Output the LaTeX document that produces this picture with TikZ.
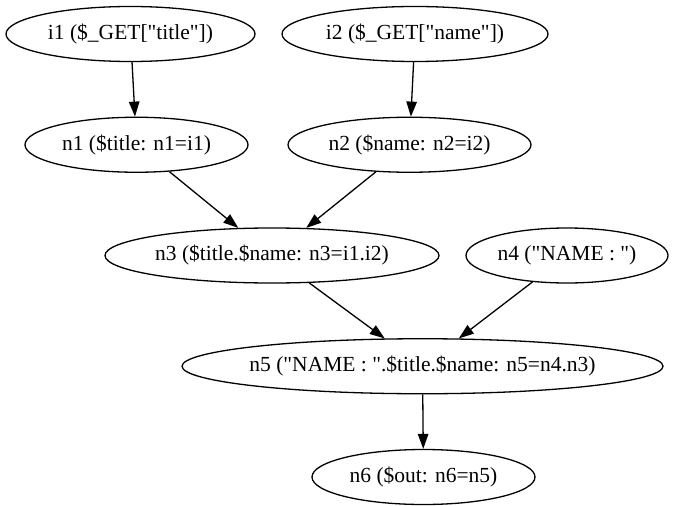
\documentclass[tikz,border=0pt]{standalone}
\usepackage{fontspec}
\newfontfamily\gvfont{Liberation Serif}
\usetikzlibrary{shapes.geometric,arrows.meta}
\tikzset{
  gnode/.style={draw, ellipse, line width=1.3pt, inner sep=0pt, minimum height=55pt,
    font=\gvfont\fontsize{21.5}{24}\selectfont},
  gedge/.style={line width=1.3pt, -{Triangle[length=15pt,width=10.5pt]}}
}
\newcommand{\lbl}[1]{\makebox[0pt]{#1}}
\begin{document}
\begin{tikzpicture}[x=1pt,y=-1pt]
\useasboundingbox (0,0) rectangle (676,505);
\node[gnode, minimum width=249pt] (i1) at (130.5,34) {\lbl{i1 (\$\_GET["title"])}};
\node[gnode, minimum width=266pt] (i2) at (415,34) {\lbl{i2 (\$\_GET["name"])}};
\node[gnode, minimum width=223pt] (n1) at (136.5,144.75) {\lbl{n1 (\$title: n1=i1)}};
\node[gnode, minimum width=243pt] (n2) at (409.5,144.75) {\lbl{n2 (\$name: n2=i2)}};
\node[gnode, minimum width=334pt] (n3) at (272,255.5) {\lbl{n3 (\$title.\$name: n3=i1.i2)}};
\node[gnode, minimum width=202pt] (n4) at (567,255.5) {\lbl{n4 ("NAME : ")}};
\node[gnode, minimum width=481pt] (n5) at (422.5,366.25) {\lbl{n5 ("NAME : ".\$title.\$name: n5=n4.n3)}};
\node[gnode, minimum width=223pt] (n6) at (423.5,477) {\lbl{n6 (\$out: n6=n5)}};
\draw[gedge] (i1) -- (n1);
\draw[gedge] (i2) -- (n2);
\draw[gedge] (n1) -- (n3);
\draw[gedge] (n2) -- (n3);
\draw[gedge] (n3) -- (n5);
\draw[gedge] (n4) -- (n5);
\draw[gedge] (n5) -- (n6);
\end{tikzpicture}
\end{document}
